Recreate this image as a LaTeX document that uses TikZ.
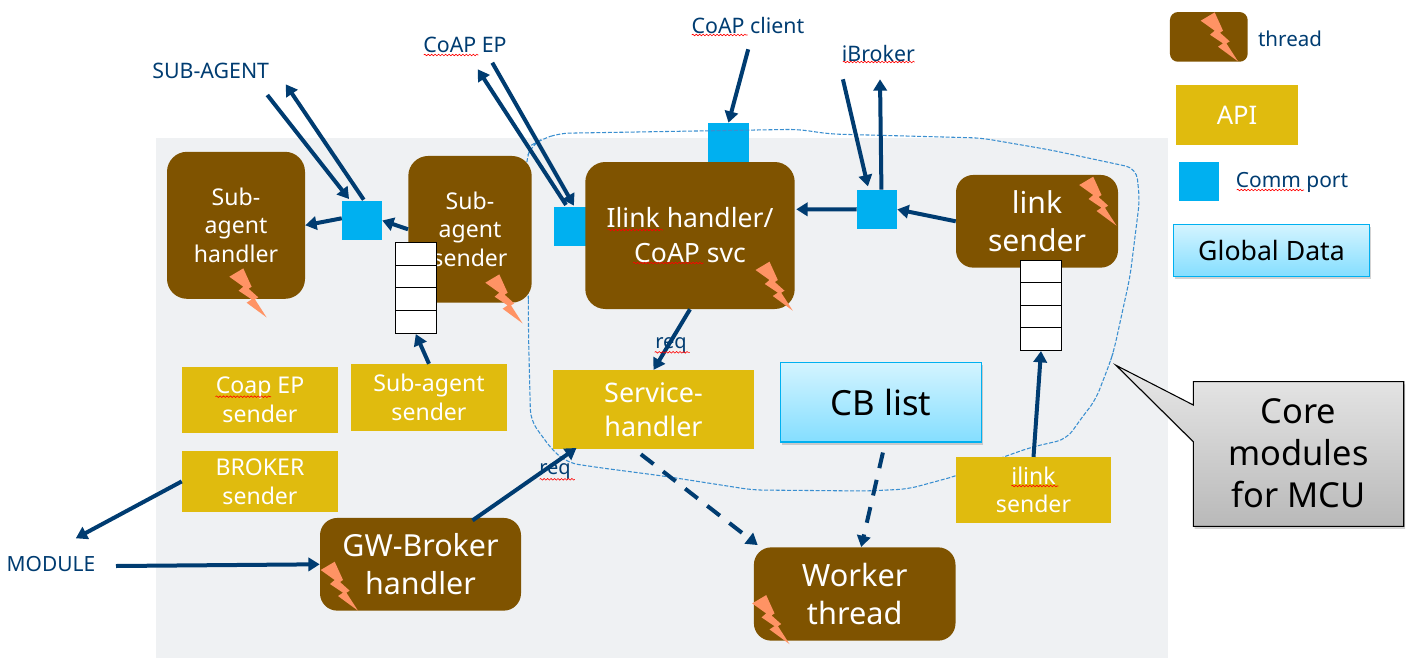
\documentclass[tikz,border=0pt]{standalone}
\usepackage{fontspec}
\setmainfont{Noto Sans}
\usetikzlibrary{arrows.meta,shadows,decorations.pathmorphing}
\definecolor{brownT}{HTML}{7F5300}
\definecolor{goldA}{HTML}{E0BB0E}
\definecolor{portB}{HTML}{00B0F0}
\definecolor{bgG}{HTML}{EFF1F3}
\definecolor{navyL}{HTML}{003C71}
\definecolor{boltO}{HTML}{FF9364}
\definecolor{dashB}{HTML}{3A8FD0}
\def\u{0.75pt}
\newcommand{\fpt}[2]{\fontsize{#1pt}{#2pt}\selectfont}
\newcommand{\boltat}[2]{\fill[boltO,shift={(#1,#2)}] (0,0) -- (14,-8.3) -- (22.3,10) -- (19.3,12) -- (29,20.7) -- (25.7,22.7) -- (37.3,40.7) -- (17.3,26) -- (22.3,22.7) -- (9.3,14) -- (14,10) -- cycle;}
\newcommand{\squig}[3]{\draw[squigline] (#1,#3) -- (#2,#3);}
\tikzset{
  threadbox/.style={fill=brownT,text=white,rounded corners=15pt,inner sep=0pt,align=center},
  apibox/.style={fill=goldA,text=white,inner sep=0pt,align=center},
  portbox/.style={fill=portB,inner sep=0pt},
  qcell/.style={draw=black,line width=1.1pt,fill=white,inner sep=0pt},
  databox/.style={draw=portB,line width=0.9pt,top color=cyanTop,bottom color=cyanBot,inner sep=0pt,align=center,text=black,drop shadow={shadow xshift=1pt,shadow yshift=-2pt,opacity=.35}},
  lbl/.style={text=navyL,inner sep=0pt,font=\fpt{16}{18}},
  conn/.style={draw=navyL,line width=3pt,-{Triangle[length=8.5pt,width=10pt]}},
  dconn/.style={conn,dash pattern=on 12pt off 9pt},
  squigline/.style={draw=red,line width=.45pt,decorate,decoration={snake,amplitude=.6pt,segment length=2.6pt}},
}
\definecolor{cyanTop}{HTML}{D4F4FF}
\definecolor{cyanBot}{HTML}{84DEFF}
\begin{document}
\begin{tikzpicture}[x=0.75pt,y=-0.75pt]
\useasboundingbox (0,0) rectangle (1412,667);
\fill[bgG] (156,138) rectangle (1168,658);

% ports (drawn below the dashed outline)
\node[portbox,minimum width=40*\u,minimum height=39*\u] (port1) at (362,220.5) {};
\node[portbox,minimum width=40*\u,minimum height=39*\u] (port2) at (573.9,226.4) {};
\node[portbox,minimum width=41*\u,minimum height=39*\u] (port3) at (728.5,142.5) {};
\node[portbox,minimum width=40*\u,minimum height=39*\u] (port4) at (877,209.4) {};

% core module outline
\draw[dashB,line width=.8pt,dash pattern=on 3pt off 1.3pt,rounded corners=8pt]
 (528.3,300) -- (528.6,340) -- (530.6,420.5) -- (553,451) -- (568,463) -- (602,468) -- (663,476) -- (753,490) -- (867,491) -- (908,489) -- (956,476) -- (1002,457.5) -- (1030.6,447.4) -- (1067,439) -- (1079.6,420.5) -- (1095.5,400) -- (1109.8,363) -- (1114,350) -- (1130,276.7) -- (1139.6,200) -- (1136.3,168.3) -- (1050.6,150) -- (981,138) -- (830,134) -- (797.6,129.3) -- (558.8,133.3) -- (540.4,140) -- (531.7,145) -- (526,160) -- (528.3,300);

% threads
\node[threadbox,minimum width=138*\u,minimum height=147*\u,font=\fpt{17.3}{21.4}] (sah) at (236,225.3) {Sub-\\agent\\handler};
\node[threadbox,minimum width=123.4*\u,minimum height=146.7*\u,font=\fpt{17.3}{21.4}] (sas) at (470,229.3) {Sub-\\agent\\sender};
\node[threadbox,minimum width=209.4*\u,minimum height=147*\u,font=\fpt{19.9}{26.3}] (ilh) at (690,235.5) {Ilink handler/\\CoAP svc};
\node[threadbox,rounded corners=13pt,minimum width=162*\u,minimum height=92.7*\u,font=\fpt{22.6}{28.5}] (lks) at (1037,221.3) {link\\sender};
\node[threadbox,rounded corners=13pt,minimum width=201*\u,minimum height=92.7*\u,font=\fpt{22.8}{28.5}] (gwb) at (420.5,564.3) {GW-Broker\\handler};
\node[threadbox,rounded corners=13pt,minimum width=201.6*\u,minimum height=93.3*\u,font=\fpt{23}{27.8}] (wrk) at (854.7,594) {Worker\\thread};

% APIs
\node[apibox,minimum width=156*\u,minimum height=65.7*\u,font=\fpt{17.3}{21.8}] (cep) at (260,399.9) {Coap EP\\sender};
\node[apibox,minimum width=156*\u,minimum height=66.7*\u,font=\fpt{17.3}{21.8}] (sap) at (429,397.4) {Sub-agent\\sender};
\node[apibox,minimum width=156*\u,minimum height=60.7*\u,font=\fpt{17.3}{21.8}] (brk) at (260,481.4) {BROKER\\sender};
\node[apibox,minimum width=200.9*\u,minimum height=79.2*\u,font=\fpt{20.2}{25.1}] (svc) at (653.5,409.8) {Service-\\handler};
\node[apibox,minimum width=155*\u,minimum height=66.1*\u,font=\fpt{17.3}{21}] (ils) at (1033.5,490.2) {ilink\\sender};

% queues
\node[qcell,minimum width=41*\u,minimum height=22.6*\u] (qa) at (415.8,254) {};
\node[qcell,minimum width=41*\u,minimum height=22*\u] (qb) at (415.8,276.3) {};
\node[qcell,minimum width=41*\u,minimum height=23*\u] (qc) at (415.8,298.8) {};
\node[qcell,minimum width=41*\u,minimum height=23*\u] (qd) at (415.8,321.8) {};
\node[qcell,minimum width=41.2*\u,minimum height=22*\u] (ra) at (1041,271.3) {};
\node[qcell,minimum width=41.2*\u,minimum height=23*\u] (rb) at (1041,293.8) {};
\node[qcell,minimum width=41.2*\u,minimum height=22*\u] (rc) at (1041,316.3) {};
\node[qcell,minimum width=41.2*\u,minimum height=23*\u] (rd) at (1041,338.8) {};

% data
\node[databox,minimum width=201.2*\u,minimum height=79.5*\u,font=\fpt{26}{30}] (cbl) at (881,402.2) {CB list};

% bolts
\boltat{229.3}{276.7}
\boltat{485.3}{282.7}
\boltat{755.5}{270}
\boltat{1079.2}{185}
\boltat{320.7}{570}
\boltat{752.2}{603.4}

% legend
\node[threadbox,rounded corners=6pt,minimum width=77.7*\u,minimum height=49.7*\u] (lgt) at (1208.8,36.9) {};
\boltat{1200.7}{20.7}
\node[lbl,font=\fpt{15.4}{18}] (lgtt) at (1290,39) {thread};
\node[apibox,minimum width=122*\u,minimum height=59.7*\u,font=\fpt{19.2}{22}] (lga) at (1237,114.9) {API};
\node[portbox,minimum width=40*\u,minimum height=39*\u] (lgp) at (1199,181.5) {};
\node[lbl,font=\fpt{15.7}{18}] (lgpt) at (1292,182.5) {Comm port};
\node[databox,minimum width=196.4*\u,minimum height=52.4*\u,font=\fpt{20}{24}] (lgd) at (1271.5,250.5) {Global Data};

% callout
\path[draw=black,line width=.8pt,top color=gray!18,bottom color=gray!55,drop shadow={shadow xshift=1pt,shadow yshift=-2pt,opacity=.35}]
 (1193.3,381.7) -- (1403.7,381.7) -- (1403.7,526.3) -- (1193.3,526.3) -- (1193.3,441.7) -- (1116,365.3) -- (1193.3,405) -- cycle;
\node[align=center,inner sep=0pt,font=\fpt{25.8}{31.5}] (cal) at (1298.5,453.5) {Core\\modules\\for MCU};

% free ends
\node[lbl] (tsa) at (210.7,70.7) {SUB-AGENT};
\node[lbl] (tce) at (465,45) {CoAP EP};
\node[lbl] (tcc) at (748,26) {CoAP client};
\node[lbl] (tib) at (878.4,53.3) {iBroker};
\node[lbl,font=\fpt{15.7}{18}] (tmo) at (51,564.5) {MODULE};
\coordinate (saIn) at (267.3,95);
\coordinate (saOut) at (285.7,84.3);
\coordinate (ceIn) at (492.3,62.7);
\coordinate (ceOut) at (477.8,69.3);
\coordinate (ccIn) at (748.2,49.3);
\coordinate (ibIn) at (842.9,79.3);
\coordinate (ibOut) at (880,79.3);
\coordinate (moOut) at (75.8,538.3);
\coordinate (moIn) at (116,566);

% connectors
\draw[conn] (saIn) -- ([shift={(7.3,-1.7)}]port1.north west);
\draw[conn] ([shift={(22,-1)}]port1.north west) -- (saOut);
\draw[conn] ([shift={(0,-2.2)}]port1.west) -- (sah.east);
\draw[conn] (sas.west) -- (port1.east);
\draw[conn] (ceIn) -- ([shift={(0,-1)}]port2.north);
\draw[conn] ([shift={(12.4,-1.7)}]port2.north west) -- (ceOut);
\draw[conn] (ccIn) -- (port3.north);
\draw[conn] (ibIn) -- ([shift={(11.2,-3.3)}]port4.north west);
\draw[conn] ([shift={(24.7,0)}]port4.north west) -- (ibOut);
\draw[conn] (port4.west) -- ([shift={(1.3,-26.2)}]ilh.east);
\draw[conn] (lks.west) -- (port4.east);
\draw[conn] (ilh.south) -- (svc.north);
\draw[conn] (ils.north) -- (rd.south);
\draw[conn] (sap.north) -- (qd.south);
\draw[conn] (brk.west) -- (moOut);
\draw[conn] (moIn) -- (gwb.west);
\draw[conn] ([shift={(52,2.7)}]gwb.north) -- ([shift={(23.7,-1.7)}]svc.south west);
\draw[dconn] ([shift={(-12.6,4.6)}]svc.south) -- ([shift={(4.1,-2)}]wrk.north west);
\draw[dconn] ([shift={(1.9,10)}]cbl.south) -- ([shift={(6.5,0)}]wrk.north);

% connector labels
\node[lbl,font=\fpt{15}{18}] (rq1) at (671,345) {req};
\node[lbl,font=\fpt{15}{18}] (rq2) at (555,471.7) {req};

% spell-check underlines
\squig{607.8}{662.9}{230}
\squig{633}{703.7}{263}
\squig{654.7}{689.8}{352.3}
\squig{539.6}{574.8}{479.3}
\squig{215.5}{271}{396.7}
\squig{1011.4}{1058.4}{486}
\squig{1236.7}{1304}{190}
\squig{423.7}{478.4}{55}
\squig{691.7}{747.5}{35}
\squig{842.9}{914.5}{62}
\end{tikzpicture}
\end{document}
